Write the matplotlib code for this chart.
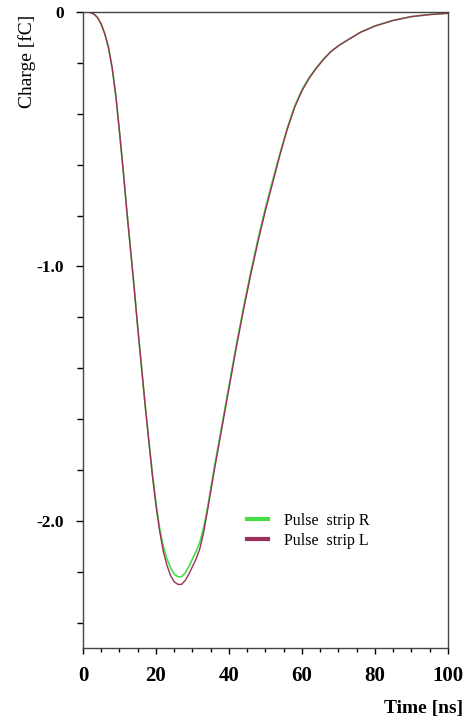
import matplotlib.pyplot as plt
from matplotlib.ticker import MultipleLocator

t = list(range(0, 41)) + [42, 44, 46, 48, 50, 52, 54, 56, 58, 60, 62, 64, 66, 68, 70, 72,
                          76, 80, 85, 90, 95, 100]

strip_L = [0, 0, -0.002, -0.008, -0.022, -0.048, -0.087, -0.14, -0.22, -0.33,
           -0.47, -0.62, -0.78, -0.93, -1.08, -1.24, -1.39, -1.54, -1.68, -1.82,
           -1.94, -2.04, -2.12, -2.175, -2.215, -2.24, -2.25, -2.25, -2.235, -2.21,
           -2.18, -2.15, -2.11, -2.05, -1.97, -1.885, -1.80, -1.72, -1.64, -1.56,
           -1.48, -1.32, -1.17, -1.03, -0.90, -0.78, -0.67, -0.56, -0.46, -0.375,
           -0.31, -0.26, -0.22, -0.185, -0.155, -0.133, -0.115, -0.08, -0.055, -0.033,
           -0.018, -0.01, -0.005]

strip_R = [0, 0, -0.002, -0.008, -0.022, -0.048, -0.087, -0.14, -0.22, -0.33,
           -0.47, -0.62, -0.78, -0.93, -1.08, -1.24, -1.39, -1.54, -1.68, -1.81,
           -1.93, -2.03, -2.10, -2.15, -2.185, -2.21, -2.22, -2.22, -2.205, -2.18,
           -2.15, -2.12, -2.085, -2.03, -1.96, -1.875, -1.79, -1.71, -1.63, -1.55,
           -1.47, -1.31, -1.16, -1.02, -0.89, -0.77, -0.66, -0.555, -0.455, -0.37,
           -0.305, -0.257, -0.218, -0.183, -0.154, -0.132, -0.114, -0.08, -0.055, -0.033,
           -0.018, -0.01, -0.005]

plt.rcParams['font.family'] = ['Liberation Serif', 'DejaVu Serif']

fig = plt.figure(figsize=(4.71, 7.24), dpi=100)
ax = fig.add_axes([0.1762, 0.105, 0.7748, 0.8784])

ax.plot(t, strip_R, color='#44e044', lw=1.2, label='Pulse  strip R')
ax.plot(t, strip_L, color='#9c2f5c', lw=1.0, label='Pulse  strip L')

ax.set_xlim(0, 100)
ax.set_ylim(-2.5, 0)
ax.xaxis.set_major_locator(MultipleLocator(20))
ax.xaxis.set_minor_locator(MultipleLocator(5))
ax.yaxis.set_minor_locator(MultipleLocator(0.2))
ax.set_yticks([0, -1.0, -2.0])
ax.set_yticklabels(['0', '-1.0', '-2.0'])

for s in ax.spines.values():
    s.set_color('#444444')
    s.set_linewidth(1.0)

ax.tick_params(axis='x', which='major', length=4, width=1, pad=9, labelsize=15)
ax.tick_params(axis='x', which='minor', length=3, width=1)
ax.tick_params(axis='y', which='major', length=5, width=1, pad=9, labelsize=12.5)
ax.tick_params(axis='y', which='minor', length=4, width=1)
for lab in ax.get_xticklabels() + ax.get_yticklabels():
    lab.set_fontweight('bold')

fig.text(0.983, 0.01, 'Time [ns]', ha='right', va='bottom', fontsize=14, fontweight='bold')
fig.text(0.057, 0.98, 'Charge [fC]', ha='center', va='top', rotation=90, fontsize=14)

leg = ax.legend(loc='upper left', bbox_to_anchor=(0.41, 0.235), frameon=False, fontsize=11.5,
                handlelength=1.3, handletextpad=1.0, labelspacing=0.25)
for line in leg.get_lines():
    line.set_linewidth(3)

fig.savefig('out.png', dpi=100)
